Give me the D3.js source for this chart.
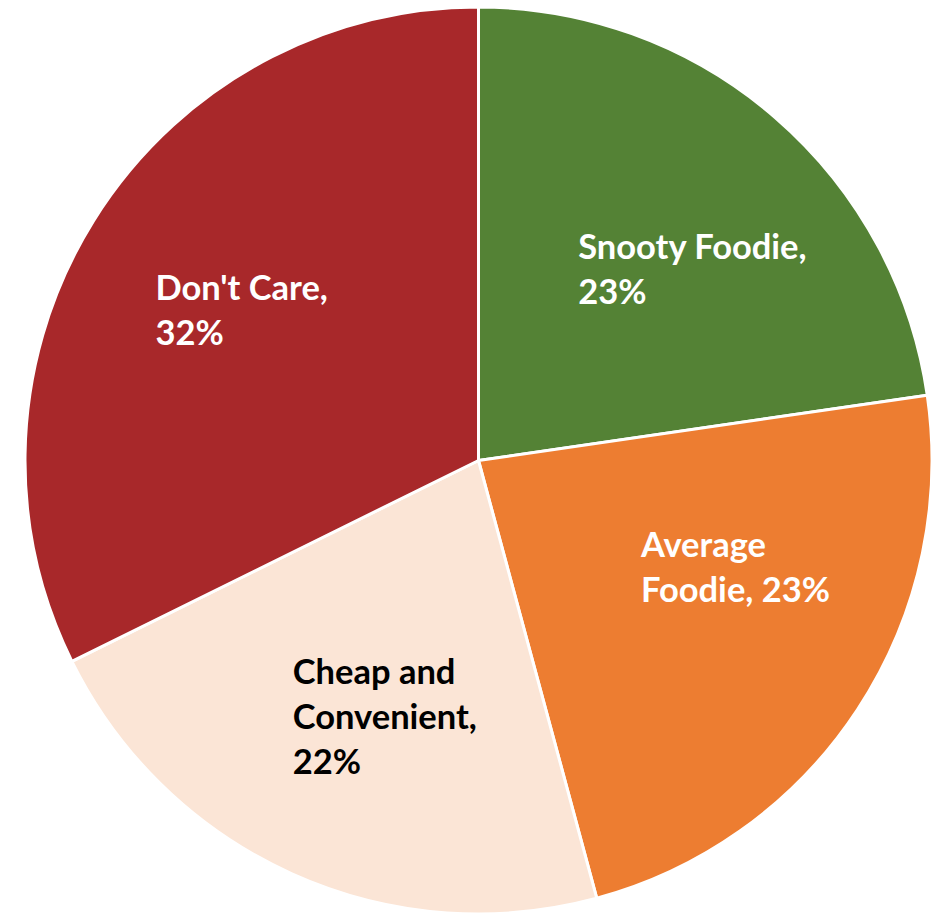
<!DOCTYPE html>
<html>
<head>
<meta charset="utf-8">
<script src="https://cdn.jsdelivr.net/npm/d3@7"></script>
<style>
  body { margin: 0; background: #fff; }
  svg { display: block; }
  .lbl { font-family: Lato, "Open Sans", sans-serif; font-weight: 700; font-size: 34.5px; }
</style>
</head>
<body>
<svg id="chart" width="946" height="913"></svg>
<script>
var categories = ["Snooty Foodie", "Average Foodie", "Cheap and Convenient", "Don't Care"];
var shares = [22.7, 23.1, 21.9, 32.3];
var labelLines = [
    ["Snooty Foodie,", "23%"],
    ["Average", "Foodie, 23%"],
    ["Cheap and", "Convenient,", "22%"],
    ["Don't Care,", "32%"]
];
var colors = ["#548235", "#ED7D31", "#FBE5D6", "#A8282A"];
var textColors = ["#fff", "#fff", "#000", "#fff"];

var svg = d3.select("#chart"),
    cx = 478.5, cy = 460.5, r = 453.5;

// excel's "best fit" label placement is not exactly on the centroid
var labelNudge = [[30, 21], [22, -48], [22, 0], [2, -2]];

var data = categories.map(function(c, i) {
    return {name: c, value: shares[i], lines: labelLines[i], i: i};
});

var pie = d3.pie().sort(null).value(function(d) { return d.value; });
var arc = d3.arc().innerRadius(0).outerRadius(r);
var labelArc = d3.arc().innerRadius(r * 0.62).outerRadius(r * 0.62);

var g = svg.append("g").attr("transform", "translate(" + cx + "," + cy + ")");

g.selectAll(".slice")
    .data(pie(data))
    .enter().append("path")
    .attr("class", "slice")
    .attr("d", arc)
    .attr("fill", function(d) { return colors[d.data.i]; })
    .attr("stroke", "#fff")
    .attr("stroke-width", 3)
    .attr("stroke-linejoin", "round");

var lineH = 45, capH = 24.5;
var labels = g.selectAll(".lbl")
    .data(pie(data))
    .enter().append("text")
    .attr("class", "lbl")
    .attr("fill", function(d) { return textColors[d.data.i]; });

labels.each(function(d) {
    var t = d3.select(this);
    d.data.lines.forEach(function(s, k) {
        t.append("tspan").attr("x", 0).attr("y", k * lineH).text(s);
    });
    var w = d3.max(t.selectAll("tspan").nodes(), function(n) { return n.getComputedTextLength(); });
    var c = labelArc.centroid(d);
    var nudge = labelNudge[d.data.i];
    var n = d.data.lines.length;
    var blockH = capH + (n - 1) * lineH;
    var x0 = c[0] + nudge[0] - w / 2,
        y0 = c[1] + nudge[1] - blockH / 2 + capH;
    t.selectAll("tspan").attr("x", x0).attr("y", function(_, k) { return y0 + k * lineH; });
});
</script>
</body>
</html>
